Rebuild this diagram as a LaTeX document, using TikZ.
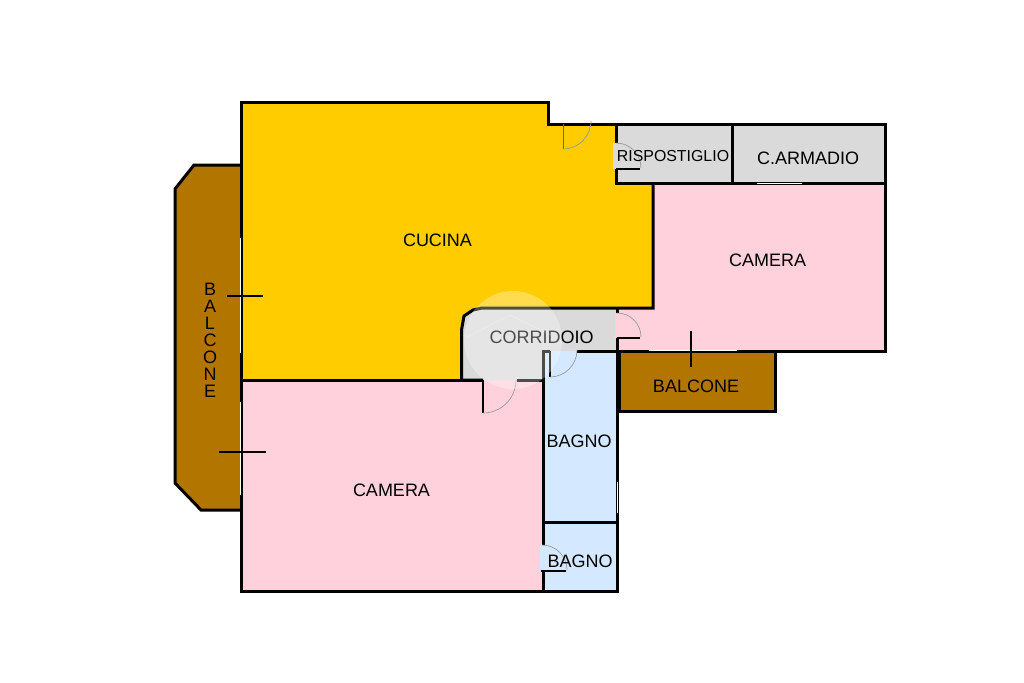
\documentclass[tikz,border=0pt]{standalone}
\usepackage{fontspec}
\setmainfont{Liberation Sans}
\definecolor{cucinaC}{RGB}{255,204,0}
\definecolor{cameraC}{RGB}{255,209,220}
\definecolor{servizioC}{RGB}{218,218,218}
\definecolor{bagnoC}{RGB}{212,233,255}
\definecolor{balconeC}{RGB}{178,117,0}
\tikzset{
  wall/.style={draw=black, line width=3pt, line join=miter},
  room/.style={font=\fontsize{18}{20}\selectfont, inner sep=0pt, text=black},
  leaf/.style={draw=black, line width=1.1pt},
  thinleaf/.style={draw=black!60, line width=0.8pt},
  swing/.style={draw=black!40, line width=0.7pt},
  glass/.style={draw=white, line width=1pt},
  tick/.style={draw=black, line width=1.8pt}
}
\begin{document}
\begin{tikzpicture}[x=1pt, y=-1pt]
\useasboundingbox (0,0) rectangle (1024,682);
% rooms
\fill[cucinaC] (241,103) -- (548,103) -- (548,124) -- (616,124) -- (616,183) -- (653,183) -- (653,308) -- (482,308) -- (473,310) -- (464,316) -- (461.5,330) -- (461.5,380) -- (241,380) -- cycle;
\fill[cameraC] (653,183) -- (885,183) -- (885,351) -- (617,351) -- (617,308) -- (653,308) -- cycle;
\fill[cameraC] (241,380) rectangle (542,591);
\fill[servizioC] (616,124) rectangle (885,183);
\fill[servizioC] (482,308) -- (617,308) -- (617,351) -- (543,351) -- (543,380) -- (461.5,380) -- (461.5,330) -- (464,316) -- (473,310) -- cycle;
\fill[bagnoC] (543,351) rectangle (617,591);
\fill[balconeC] (240,165) -- (194,165) -- (175,189) -- (175,483) -- (201,510) -- (240,510) -- cycle;
\fill[balconeC] (619,351) rectangle (775,411);
% door recesses
\fill[servizioC] (613,143) rectangle (618,169);
\fill[cameraC] (615,313) rectangle (620,338);
\fill[bagnoC] (540,545) rectangle (545,571);
% walls
\draw[wall] (241,103) -- (548,103) -- (548,124) -- (885,124) -- (885,351) -- (775,351) -- (775,411) -- (619,411) -- (619,351);
\draw[wall] (616,124) -- (616,143);
\draw[wall] (616,169) -- (616,183) -- (885,183);
\draw[wall] (732,124) -- (732,183);
\draw[wall] (653,183) -- (653,308) -- (482,308) -- (473,310) -- (464,316) -- (461.5,330) -- (461.5,380) -- (483,380);
\draw[wall] (517,380) -- (543,380) -- (543,351) -- (550,351);
\draw[wall] (577,351) -- (885,351);
\draw[wall] (617,308) -- (617,313);
\draw[wall] (617,338) -- (617,591) -- (241,591) -- (241,101.5);
\draw[wall] (241,380) -- (483,380);
\draw[wall] (543,380) -- (543,545);
\draw[wall] (543,571) -- (543,591);
\draw[wall] (543,522) -- (617,522);
\draw[wall] (240,165) -- (194,165) -- (175,189) -- (175,483) -- (201,510) -- (240,510);
% windows
\foreach \xa/\ya/\xb/\yb in {240/238/240/353, 240/402/240/495, 649/350/737/350, 757/183/802/183, 617.5/482/617.5/513}
    \draw[glass] (\xa,\ya) -- (\xb,\yb);
% sliding marks
\foreach \xa/\ya/\xb/\yb in {227/296/263/296, 219/452/266/452, 691/331/691/367}
    \draw[tick] (\xa,\ya) -- (\xb,\yb);
% doors
\draw[thinleaf] (563,124) -- (563,149);
\draw[swing] (563,149) arc[start angle=90, end angle=0, radius=28];
\draw[leaf] (616,169) -- (640,169);
\draw[swing] (616,143) arc[start angle=-90, end angle=0, radius=25];
\draw[leaf] (483,380) -- (483,413);
\draw[swing] (483,413) arc[start angle=90, end angle=0, radius=33];
\draw[leaf] (550,351) -- (550,377);
\draw[swing] (550,377) arc[start angle=90, end angle=0, radius=27];
\draw[leaf] (617,338) -- (640,338);
\draw[swing] (617,313) arc[start angle=-90, end angle=0, radius=24];
\draw[leaf] (541,571) -- (566,571);
\draw[swing] (542,545) arc[start angle=-90, end angle=0, radius=25];
% labels
\node[room] (cucina) at (437.5,240.3) {CUCINA};
\node[room] (cameraA) at (767.5,260.3) {CAMERA};
\node[room] (cameraB) at (391.5,490.3) {CAMERA};
\node[room, font=\fontsize{15.9}{18}\selectfont] (rispostiglio) at (673,156) {RISPOSTIGLIO};
\node[room] (armadio) at (808,158) {C.ARMADIO};
\node[room] (corridoio) at (541.5,337) {CORRIDOIO};
\node[room] (bagnoA) at (579,441.3) {BAGNO};
\node[room] (bagnoB) at (580,561.3) {BAGNO};
\node[room] (balconeA) at (696,386.3) {BALCONE};
\node[room, align=center, font=\fontsize{18}{17}\selectfont] (balconeB) at (210,340) {B\\A\\L\\C\\O\\N\\E};
% watermark
\fill[white, opacity=0.3] (513,340) circle[radius=49];
\draw[white, opacity=0.25, line width=0.8pt] (467,337) -- (510,315) -- (551,335);
\end{tikzpicture}
\end{document}
